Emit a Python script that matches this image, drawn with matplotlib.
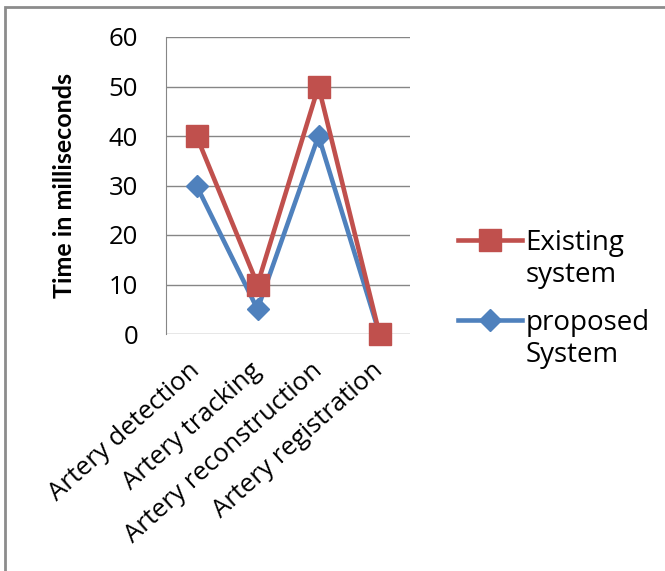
import matplotlib

matplotlib.use('Agg')

import matplotlib.pyplot as plt
import numpy as np
from matplotlib.patches import Rectangle
from matplotlib.legend_handler import HandlerLine2D

plt.rcParams['font.family'] = ['Open Sans', 'DejaVu Sans']

categories = ['Artery detection', 'Artery tracking', 'Artery reconstruction', 'Artery registration']
existing = [40, 10, 50, 0]
proposed = [30, 5, 40, 0]
yticks = [0, 10, 20, 30, 40, 50, 60]

red = '#C0504D'
blue = '#4F81BD'
grid_c = '#868686'
fs = 18.5
fs_leg = 20


class FirstLineHandler(HandlerLine2D):
    # put the legend key next to the first line of a two-line label
    def create_artists(self, legend, orig_handle, xdescent, ydescent, width, height, fontsize, trans):
        arts = super().create_artists(legend, orig_handle, xdescent, ydescent, width, height, fontsize, trans)
        for a in arts:
            a.set_ydata(np.asarray(a.get_ydata()) + 0.72 * fontsize)
        return arts


fig = plt.figure(figsize=(6.65, 5.71), dpi=100)
# outer frame like the Excel chart border
fig.patches.append(Rectangle((5 / 665, -0.01), 1.2, (571 - 7) / 571 + 0.01, transform=fig.transFigure,
                             fill=False, edgecolor='#8c8c8c', linewidth=2))

ax = fig.add_axes([166 / 665, (571 - 334) / 571, 244 / 665, 297 / 571])
x = list(range(len(categories)))
l_prop, = ax.plot(x, proposed, color=blue, linewidth=3.3, marker='D', markersize=11.5,
                  label='proposed\nSystem', zorder=3, clip_on=False)
l_exist, = ax.plot(x, existing, color=red, linewidth=3.3, marker='s', markersize=16.5,
                   label='Existing\nsystem', zorder=4, clip_on=False)

ax.set_xlim(-0.5, 3.5)
ax.set_ylim(0, 60)
ax.set_yticks(yticks)
ax.yaxis.grid(True, color=grid_c, linewidth=1)
ax.set_axisbelow(True)
for s in ['top', 'right', 'bottom']:
    ax.spines[s].set_visible(False)
ax.spines['left'].set_color(grid_c)
ax.tick_params(axis='y', length=0, labelsize=fs, pad=20)
ax.set_xticks(x)
ax.set_xticklabels(categories, rotation=42, ha='right', va='center', rotation_mode='anchor', fontsize=18.5)
ax.tick_params(axis='x', length=0, pad=24)
ax.set_ylabel('Time in milliseconds', fontsize=18, fontweight='bold', family=['Lato', 'DejaVu Sans'])
ax.yaxis.set_label_coords(-0.37, 0.5)

fig.legend(handles=[l_exist, l_prop], loc='upper left', bbox_to_anchor=(433 / 665, 1 - 204 / 571),
           frameon=False, fontsize=fs_leg, handlelength=2.3, handletextpad=0.12, labelspacing=0.7,
           handler_map={matplotlib.lines.Line2D: FirstLineHandler()})

fig.savefig('out.png', dpi=100)
